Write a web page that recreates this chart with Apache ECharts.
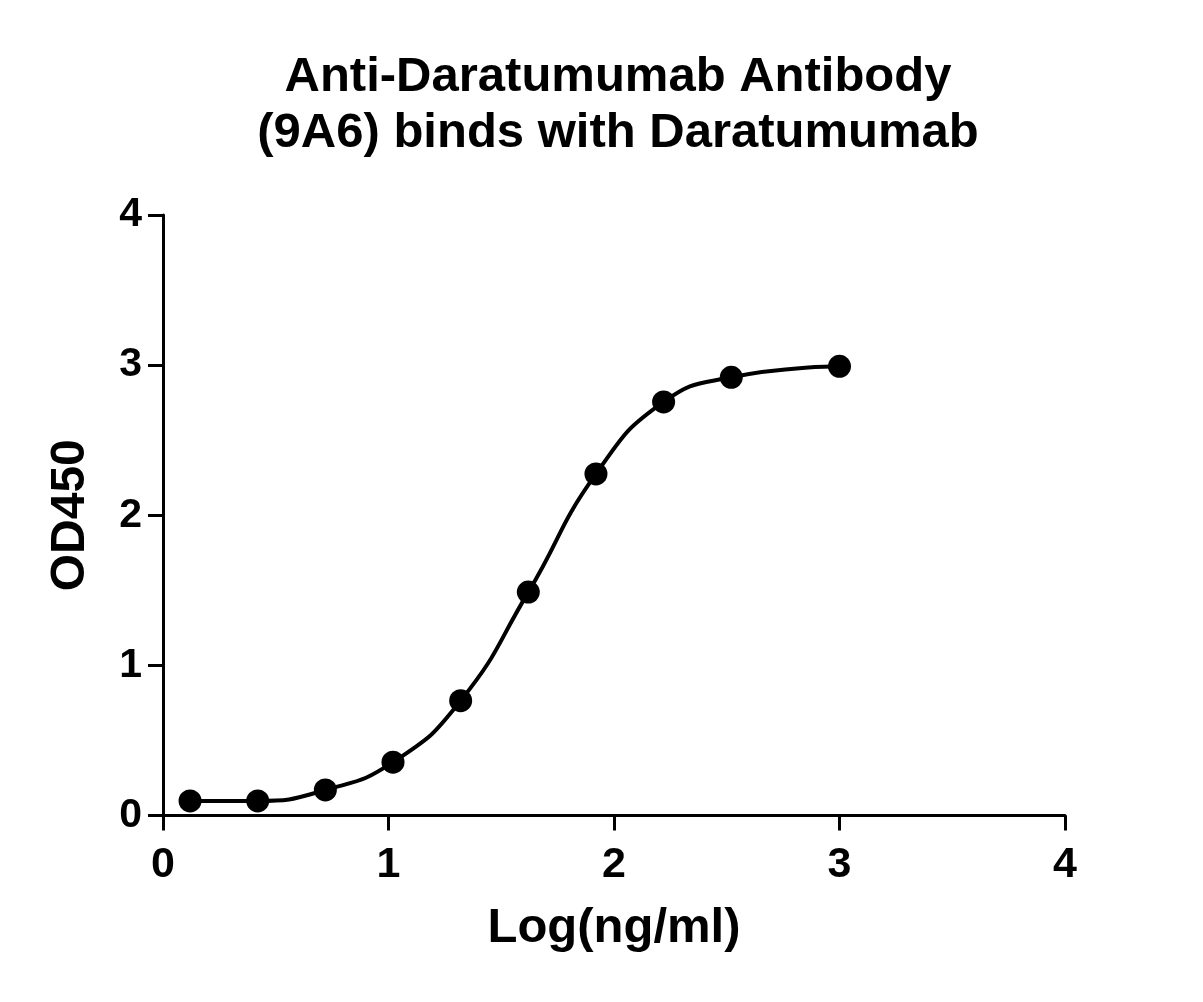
<!DOCTYPE html>
<html>
<head>
<meta charset="utf-8">
<script src="https://cdn.jsdelivr.net/npm/echarts@6/dist/echarts.min.js"></script>
<style>html,body{margin:0;padding:0;background:#fff;}#c{width:1203px;height:1002px;}</style>
</head>
<body>
<div id="c"></div>
<script>
var titleLines = ['Anti-Daratumumab Antibody', '(9A6) binds with Daratumumab'];
var xName = 'Log(ng/ml)';
var yName = 'OD450';
var logConc = [0.12, 0.42, 0.72, 1.02, 1.32, 1.62, 1.92, 2.22, 2.52, 3.0];
var od450 = [0.097, 0.097, 0.17, 0.355, 0.765, 1.488, 2.275, 2.755, 2.919, 2.992];
var xTicks = [0, 1, 2, 3, 4];
var yTicks = [0, 1, 2, 3, 4];

var font = '"Liberation Sans", Arial, sans-serif';
var chart = echarts.init(document.getElementById('c'), null, {renderer: 'canvas'});
var pts = logConc.map(function (x, i) { return [x, od450[i]]; });
chart.setOption({
  backgroundColor: '#fff',
  animation: false,
  title: {
    text: titleLines.join('\n'),
    left: 613,
    textAlign: 'center',
    top: 44,
    textStyle: {fontFamily: font, fontWeight: 'bold', fontSize: 49, color: '#000', lineHeight: 56}
  },
  grid: {left: 163, right: 138, top: 215, bottom: 186.5, containLabel: false},
  xAxis: {
    type: 'value', min: xTicks[0], max: xTicks[xTicks.length - 1], interval: 1,
    name: xName, nameLocation: 'middle', nameGap: 88,
    nameTextStyle: {fontFamily: font, fontWeight: 'bold', fontSize: 49, color: '#000'},
    axisLine: {show: true, onZero: false, lineStyle: {color: '#000', width: 3}},
    axisTick: {show: true, length: 15, inside: false, lineStyle: {color: '#000', width: 3}},
    axisLabel: {fontFamily: font, fontWeight: 'bold', fontSize: 43, color: '#000', margin: 28},
    splitLine: {show: false}
  },
  yAxis: {
    type: 'value', min: yTicks[0], max: yTicks[yTicks.length - 1], interval: 1,
    name: yName, nameLocation: 'middle', nameGap: 68, nameRotate: 90,
    nameTextStyle: {fontFamily: font, fontWeight: 'bold', fontSize: 48, color: '#000'},
    axisLine: {show: true, onZero: false, lineStyle: {color: '#000', width: 3}},
    axisTick: {show: true, length: 15, inside: false, lineStyle: {color: '#000', width: 3}},
    axisLabel: {fontFamily: font, fontWeight: 'bold', fontSize: 41, color: '#000', margin: 21},
    splitLine: {show: false}
  },
  series: [{
    type: 'line',
    data: pts,
    smooth: 0.5,
    symbol: 'circle',
    symbolSize: 23,
    showAllSymbol: true,
    itemStyle: {color: '#000'},
    lineStyle: {color: '#000', width: 4}
  }]
});
</script>
</body>
</html>
